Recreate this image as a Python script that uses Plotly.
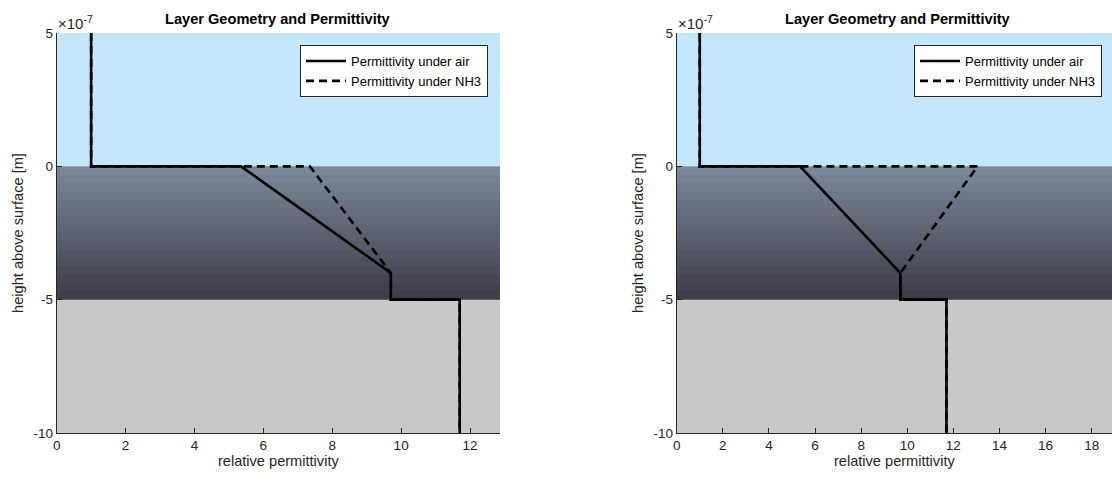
import plotly.graph_objects as go

# ---- data ----
layer_bounds = [5e-7, 0.0, -5e-7, -10e-7]          # top of air, surface, bottom of film, bottom of substrate
air_x = [1, 1, 5.35, 9.7, 9.7, 11.7, 11.7]
air_y = [5e-7, 0, 0, -4e-7, -5e-7, -5e-7, -10e-7]
nh3_left_x = [1, 1, 7.35, 9.7, 9.7, 11.7, 11.7]
nh3_right_x = [1, 1, 13.05, 9.7, 9.7, 11.7, 11.7]
nh3_y = [5e-7, 0, 0, -4e-7, -5e-7, -5e-7, -10e-7]
left_xticks = [0, 2, 4, 6, 8, 10, 12]
right_xticks = [0, 2, 4, 6, 8, 10, 12, 14, 16, 18]
y_tickvals = [-10e-7, -5e-7, 0, 5e-7]
y_ticktext = ["-10", "-5", "0", "5"]

W, H = 1112, 481
FONT = "Liberation Sans, Arial, Helvetica, sans-serif"
AX = "#262626"

def px_x(p):
    return p / W

def px_y(p):
    return (H - p) / H

y_dom = [px_y(433), px_y(33)]
left_dom = [px_x(56.7), px_x(500)]
right_dom = [px_x(676.7), 1.0]

fig = go.Figure()

# lines
for xa, ya, nx, leg in [("x", "y", nh3_left_x, "legend"), ("x2", "y2", nh3_right_x, "legend2")]:
    fig.add_trace(go.Scatter(x=air_x, y=air_y, mode="lines", name="Permittivity under air",
                             line=dict(color="black", width=2.6), xaxis=xa, yaxis=ya, legend=leg))
    fig.add_trace(go.Scatter(x=nx, y=nh3_y, mode="lines", name="Permittivity under NH3",
                             line=dict(color="black", width=2.6, dash="8px,5px"), xaxis=xa, yaxis=ya, legend=leg))

# background layers
shapes = []
n_bands = 16
top_c = (122, 135, 152)
bot_c = (62, 61, 73)
for xr, yr in [("x domain", "y"), ("x2 domain", "y2")]:
    shapes.append(dict(type="rect", xref=xr, yref=yr, x0=0, x1=1, y0=layer_bounds[1], y1=layer_bounds[0],
                       fillcolor="rgb(196,230,251)", line=dict(width=0), layer="below"))
    span = layer_bounds[1] - layer_bounds[2]
    for i in range(n_bands):
        t = i / (n_bands - 1)
        c = tuple(round(top_c[k] + (bot_c[k] - top_c[k]) * t) for k in range(3))
        y1 = layer_bounds[1] - span * i / n_bands
        # each band reaches down to the film bottom; later (darker) bands cover the lower part
        shapes.append(dict(type="rect", xref=xr, yref=yr, x0=0, x1=1, y0=layer_bounds[2], y1=y1,
                           fillcolor="rgb(%d,%d,%d)" % c, line=dict(width=0), layer="below"))
    shapes.append(dict(type="rect", xref=xr, yref=yr, x0=0, x1=1, y0=layer_bounds[3], y1=layer_bounds[2],
                       fillcolor="rgb(200,200,200)", line=dict(width=0), layer="below"))

def xaxis(dom, rng, ticks, anchor):
    return dict(domain=dom, range=rng, tickvals=ticks, ticks="inside", ticklen=5, tickcolor=AX,
                showline=True, linecolor=AX, linewidth=1, showgrid=False, zeroline=False,
                tickfont=dict(size=13.5, color=AX, family=FONT), anchor=anchor,
                title=dict(text="relative permittivity", font=dict(size=14.6, color=AX, family=FONT), standoff=2),
                automargin=False, fixedrange=True)

def yaxis(anchor):
    return dict(domain=y_dom, range=[layer_bounds[3], layer_bounds[0]], tickvals=y_tickvals, ticktext=y_ticktext,
                ticks="inside", ticklen=5, tickcolor=AX, showline=True, linecolor=AX, linewidth=1,
                showgrid=False, zeroline=False, tickfont=dict(size=13.5, color=AX, family=FONT), anchor=anchor,
                title=dict(text="height above surface [m]", font=dict(size=14.6, color=AX, family=FONT), standoff=6),
                automargin=False, fixedrange=True)

annotations = []
for cx, x0 in [(278, 56), (898, 676)]:
    annotations.append(dict(text="<b>Layer Geometry and Permittivity</b>", xref="paper", yref="paper",
                            x=px_x(cx), y=px_y(29), xanchor="center", yanchor="bottom", showarrow=False,
                            font=dict(size=14.6, color="black", family=FONT)))
    annotations.append(dict(text="×10<sup>-7</sup>", xref="paper", yref="paper",
                            x=px_x(x0), y=px_y(34), xanchor="left", yanchor="bottom", showarrow=False,
                            font=dict(size=15, color=AX, family=FONT)))

def legend(xr):
    return dict(x=px_x(xr), y=px_y(45), xanchor="right", yanchor="top", bgcolor="white",
                bordercolor=AX, borderwidth=1, font=dict(size=13, color="black", family=FONT),
                itemwidth=40, tracegroupgap=0)

fig.update_layout(
    width=W, height=H, margin=dict(l=0, r=0, t=0, b=0),
    paper_bgcolor="white", plot_bgcolor="white",
    xaxis=xaxis(left_dom, [0, 12.87], left_xticks, "y"),
    yaxis=yaxis("x"),
    xaxis2=xaxis(right_dom, [0, 18.88], right_xticks, "y2"),
    yaxis2=yaxis("x2"),
    shapes=shapes, annotations=annotations,
    legend=legend(488), legend2=legend(1102),
    showlegend=True,
)

fig.write_html("out.html")
